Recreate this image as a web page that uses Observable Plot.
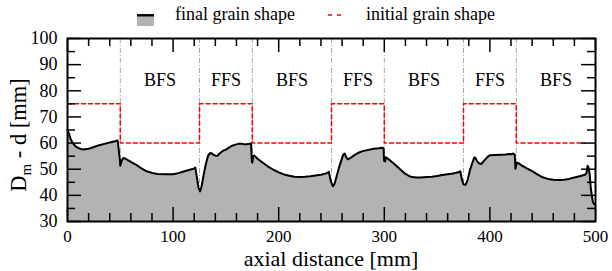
<!DOCTYPE html>
<html><head><meta charset="utf-8">
<script src="https://cdn.jsdelivr.net/npm/d3@7"></script>
<script src="https://cdn.jsdelivr.net/npm/@observablehq/plot@0.6"></script>
<style>
body{margin:0;background:#fff;font-family:"Liberation Serif","DejaVu Serif",serif;}
#wrap{width:612px;}
svg{display:block;}
svg text{font-family:"Liberation Serif","DejaVu Serif",serif;}
</style></head><body><div id="wrap"></div>
<script>
// final grain shape (axial distance mm, Dm - d mm)
const profileX = [0,1.5,3,5,8,12,15,20,25,30,35,40,45,47.5,49.5,50,51.5,53,55,60,65,70,75,80,85,95,100,105,110,115,120,121,122.5,124,125.5,127,129,131,133,134.5,136,138,140,142,144,147,150,153,156,159,162,165,168,171,173,173.8,174.5,175,175.8,177,180,185,190,195,200,205,210,215,220,225,230,235,240,245,247.5,249,250.5,251.5,253,255,257,259,261,262.5,264,265.5,268,271,275,280,285,290,295,298,299.3,299.8,300.8,301.5,305,310,315,320,325,330,335,340,345,350,355,360,365,370,372,373.5,375,377,379,381,383,385,386,388,390,392,395,398,400,405,410,415,418,420,422,423.5,424.2,425.5,427,430,435,440,445,450,455,460,465,470,475,480,485,490,491.5,492.5,493.5,494.5,495.5,496.5,497.5,499];
const profileY = [65,63.5,61.5,60,58.6,57.8,57.5,57.8,58.5,59.2,59.7,60.2,60.7,61,54,51.3,53.5,54.3,54,52.8,51.7,50.3,49.2,48.6,48.2,48.1,48.1,48.5,49.1,49.7,50.3,50.6,47,43,41.5,43.5,48,52,55,56,56.2,55.6,55.2,55.1,56,57,57.5,58.3,59,59.4,59.7,59.7,59.5,59.6,59.8,59.8,53.5,52.5,55,55.2,54,52.5,51,49.8,48.8,48,47.5,47.1,47,47.1,47.3,47.6,47.9,48.4,49,46,44.2,43.5,44.5,47.5,50.5,53,55.5,56,54.5,53.8,54.3,55.2,56.2,57,57.4,57.8,58,58.2,58,53.2,53,54.6,53.5,51.8,50,48.2,47.1,46.8,46.8,47,47.1,47.4,47.8,48.1,48.4,48.8,49.2,46,44.2,44,46,49.5,52,54.3,54.5,53,52.2,52,53.5,54.8,55.3,55.4,55.5,55.6,55.8,55.7,56,55.7,50.2,52.5,52.3,51.5,50.3,49.3,48,46.9,46.3,46,45.9,46,46.3,46.8,47.3,47.9,48.5,51.3,50.5,48,43,40,37.5,36.5];
// initial grain shape (steps)
const initEdges = [0,50,125,175,250,300,375,425,490];
const initLevels = [75,60,75,60,75,60,75,60];
// section boundaries and labels
const boundaryX = [50,125,175,250,300,375,425];
const regionLabels = ["BFS","FFS","BFS","FFS","BFS","FFS","BFS"];
const regionCenterX = [87.5,150,212.5,275,337.5,400,462.5];
const regionLabelY = 84;
// ticks
const xMajor = [0,100,200,300,400,500];
const xMinor = [20,40,60,80,120,140,160,180,220,240,260,280,320,340,360,380,420,440,460,480];
const yMajor = [30,40,50,60,70,80,90,100];
const yMinor = [35,45,55,65,75,85,95];
const xTitle = "axial distance [mm]";
const legendLabels = ["final grain shape","initial grain shape"];

const LH=26;
const W=612,H=271-LH,mt=12,mb=50,ml=67,mr=17;
const iw=W-ml-mr, ih=H-mt-mb;
const MAJ=14, MIN=8;
const FONT="Liberation Serif, DejaVu Serif, serif";

const profile = profileX.map((x,i)=>({x, y: profileY[i]}));
const init = initLevels.map((v,i)=>({x: initEdges[i], y: v}));
init.push({x: initEdges[initEdges.length-1], y: initLevels[initLevels.length-1]});
const regions = regionLabels.map((t,i)=>({t, x: regionCenterX[i], y: regionLabelY}));

// legend
const wrap = document.getElementById("wrap");
const lg = d3.create("svg").attr("width",W).attr("height",LH);
lg.append("rect").attr("x",137).attr("y",16.5).attr("width",17).attr("height",9.5).attr("fill","#b3b3b3");
lg.append("line").attr("x1",137).attr("x2",154).attr("y1",15.3).attr("y2",15.3).attr("stroke","black").attr("stroke-width",2.5);
lg.append("text").attr("x",175).attr("y",20).attr("font-size",18).attr("fill","black").text(legendLabels[0]);
lg.append("line").attr("x1",328).attr("x2",341).attr("y1",15).attr("y2",15).attr("stroke","#ff0000").attr("stroke-width",1.5).attr("stroke-dasharray","4,5");
lg.append("text").attr("x",366).attr("y",20).attr("font-size",18).attr("fill","black").text(legendLabels[1]);
wrap.appendChild(lg.node());

const chart = Plot.plot({
  width:W, height:H, marginTop:mt, marginBottom:mb, marginLeft:ml, marginRight:mr,
  style:{fontFamily:FONT, fontSize:"18px", color:"black", background:"white", overflow:"visible"},
  x:{domain:[0,500]}, y:{domain:[30,100]},
  marks:[
    Plot.ruleX(boundaryX, {stroke:"#a8a8a8", strokeWidth:1, strokeDasharray:"5,2,1,2"}),
    Plot.line(init, {x:"x", y:"y", curve:"step-after", stroke:"#ff0000", strokeWidth:1.5, strokeDasharray:"4,3"}),
    Plot.areaY(profile, {x:"x", y1:30, y2:"y", fill:"#b3b3b3"}),
    Plot.line(profile, {x:"x", y:"y", stroke:"black", strokeWidth:2}),
    Plot.text(regions, {x:"x", y:"y", text:"t", fontSize:18, fill:"black"}),
    Plot.tickX(xMajor, {x:d=>d, insetTop:ih-MAJ, stroke:"black", strokeWidth:1.5}),
    Plot.tickX(xMajor, {x:d=>d, insetBottom:ih-MAJ, stroke:"black", strokeWidth:1.5}),
    Plot.tickX(xMinor, {x:d=>d, insetTop:ih-MIN, stroke:"black", strokeWidth:1.5}),
    Plot.tickX(xMinor, {x:d=>d, insetBottom:ih-MIN, stroke:"black", strokeWidth:1.5}),
    Plot.tickY(yMajor, {y:d=>d, insetRight:iw-MAJ, stroke:"black", strokeWidth:1.5}),
    Plot.tickY(yMajor, {y:d=>d, insetLeft:iw-MAJ, stroke:"black", strokeWidth:1.5}),
    Plot.tickY(yMinor, {y:d=>d, insetRight:iw-MIN, stroke:"black", strokeWidth:1.5}),
    Plot.tickY(yMinor, {y:d=>d, insetLeft:iw-MIN, stroke:"black", strokeWidth:1.5}),
    Plot.axisX({ticks:xMajor, tickSize:0, tickPadding:8, tickFormat:d=>String(d), label:null, fontSize:17}),
    Plot.axisY({ticks:yMajor, tickSize:0, tickPadding:10, tickFormat:d=>String(d), label:null, fontSize:18}),
    Plot.frame({stroke:"black", strokeWidth:2})
  ]
});
const svg = d3.select(chart);
svg.append("text").attr("x",331).attr("y",H-5.5).attr("text-anchor","middle")
  .attr("font-size",22).attr("fill","black").text(xTitle);
const yl = svg.append("text").attr("transform",`translate(26,${135-LH}) rotate(-90)`).attr("text-anchor","middle")
  .attr("font-size",22.5).attr("fill","black").style("white-space","pre");
yl.append("tspan").text("D");
yl.append("tspan").attr("font-size",15).attr("dy",5).text("m");
yl.append("tspan").attr("dy",-5).text(" - d [mm]");
wrap.appendChild(chart);
</script></body></html>
